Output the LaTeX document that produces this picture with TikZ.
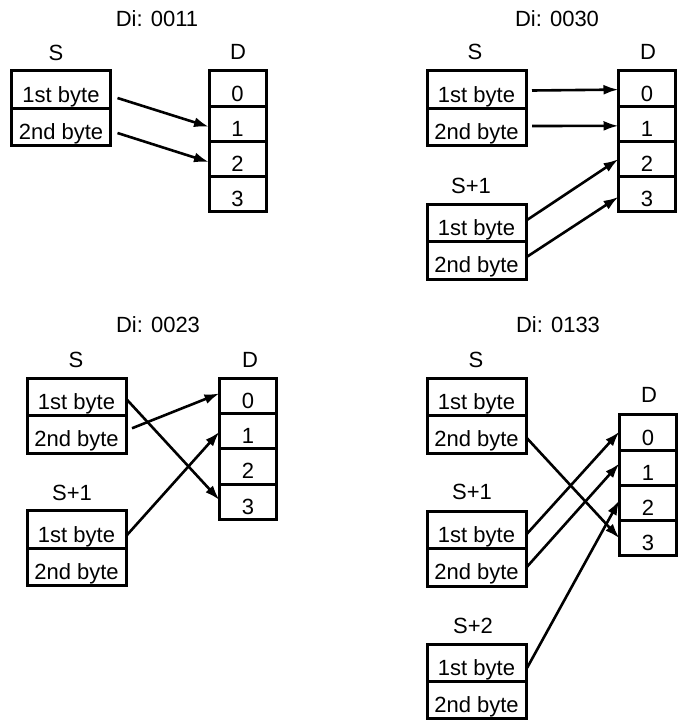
\documentclass[tikz,border=0pt]{standalone}
\usepackage{fontspec}
\setmainfont{Liberation Sans}
\usetikzlibrary{arrows.meta,calc}
\tikzset{
  txt/.style={font=\fontsize{22}{24}\selectfont},
  cell/.style={txt, draw, line width=3pt, minimum width=99pt, minimum height=37.5pt,
    inner sep=0pt, outer sep=0pt, text height=25pt, text depth=0pt},
  s2cell/.style={cell, minimum height=37pt},
  dcell/.style={cell, minimum width=57pt, minimum height=35.25pt},
  lbl/.style={txt, anchor=base, inner sep=0pt},
  arr/.style={line width=2.6pt, -{Latex[length=15pt,width=10pt]}}
}
\begin{document}
\begin{tikzpicture}[x=1pt,y=-1pt]
\useasboundingbox (0,0) rectangle (687,723);

% ---------- Panel 1: Di 0011 ----------
\node[lbl] (t1) at (157,26) {Di: 0011};
\node[lbl] (l1s) at (56,60) {S};
\node[lbl] (l1d) at (238,59) {D};
\node[cell] (p1sa) at (61,89.5) {1st byte};
\node[cell] (p1sb) at (61,127) {2nd byte};
\node[dcell] (p1d0) at (237.5,88.6) {0};
\node[dcell] (p1d1) at (237.5,123.85) {1};
\node[dcell] (p1d2) at (237.5,159.1) {2};
\node[dcell] (p1d3) at (237.5,194.35) {3};
\draw[arr] ($(p1sa.east)+(7,8.5)$) -- ($(p1d1.west)+(0,3)$);
\draw[arr] ($(p1sb.east)+(7,6)$) -- ($(p1d2.west)+(0,3)$);

% ---------- Panel 2: Di 0030 ----------
\node[lbl] (t2) at (557,26) {Di: 0030};
\node[lbl] (l2s) at (475,59) {S};
\node[lbl] (l2d) at (648,59) {D};
\node[lbl] (l2s1) at (471,193) {S+1};
\node[cell] (p2sa) at (476.5,89.5) {1st byte};
\node[cell] (p2sb) at (476.5,127) {2nd byte};
\node[cell] (p2s1a) at (476.5,222.75) {1st byte};
\node[cell] (p2s1b) at (476.5,260.25) {2nd byte};
\node[dcell] (p2d0) at (647,88.6) {0};
\node[dcell] (p2d1) at (647,123.85) {1};
\node[dcell] (p2d2) at (647,159.1) {2};
\node[dcell] (p2d3) at (647,194.35) {3};
\draw[arr] ($(p2sa.east)+(6,1)$) -- ($(p2d0.west)+(0,1)$);
\draw[arr] ($(p2sb.east)+(6,-1)$) -- ($(p2d1.west)+(0,2)$);
\draw[arr] ($(p2s1a.east)+(1,-2.75)$) -- ($(p2d2.west)+(0,0)$);
\draw[arr] ($(p2s1b.east)+(1,-3.5)$) -- ($(p2d3.west)+(0,2.5)$);

% ---------- Panel 3: Di 0023 ----------
\node[lbl] (t3) at (158,332) {Di: 0023};
\node[lbl] (l3s) at (76,367) {S};
\node[lbl] (l3d) at (250,367) {D};
\node[lbl] (l3s1) at (72,500) {S+1};
\node[cell] (p3sa) at (76.5,396.75) {1st byte};
\node[cell] (p3sb) at (76.5,434.25) {2nd byte};
\node[cell] (p3s1a) at (76.5,529.5) {1st byte};
\node[cell] (p3s1b) at (76.5,567) {2nd byte};
\node[dcell] (p3d0) at (248,395.9) {0};
\node[dcell] (p3d1) at (248,431.15) {1};
\node[dcell] (p3d2) at (248,466.4) {2};
\node[dcell] (p3d3) at (248,501.65) {3};
\draw[arr] ($(p3sa.east)+(1,3)$) -- ($(p3d3.west)+(0,-1.6)$);
\draw[arr] ($(p3sb.east)+(6,-6)$) -- ($(p3d0.west)+(0,-2.5)$);
\draw[arr] ($(p3s1a.east)+(1,5.5)$) -- ($(p3d1.west)+(0,0.6)$);

% ---------- Panel 4: Di 0133 ----------
\node[lbl] (t4) at (558,332) {Di: 0133};
\node[lbl] (l4s) at (476,367) {S};
\node[lbl] (l4d) at (649,402) {D};
\node[lbl] (l4s1) at (472,499.5) {S+1};
\node[lbl] (l4s2) at (473,633) {S+2};
\node[cell] (p4sa) at (476.5,396.75) {1st byte};
\node[cell] (p4sb) at (476.5,434.25) {2nd byte};
\node[cell] (p4s1a) at (476.5,529.75) {1st byte};
\node[cell] (p4s1b) at (476.5,567.25) {2nd byte};
\node[s2cell] (p4s2a) at (476.5,663) {1st byte};
\node[s2cell] (p4s2b) at (476.5,700) {2nd byte};
\node[dcell] (p4d0) at (648,432.6) {0};
\node[dcell] (p4d1) at (648,467.85) {1};
\node[dcell] (p4d2) at (648,503.1) {2};
\node[dcell] (p4d3) at (648,538.35) {3};
\draw[arr] ($(p4sb.east)+(1,4)$) -- ($(p4d3.west)+(0,0)$);
\draw[arr] ($(p4s1a.east)+(1,4)$) -- ($(p4d0.west)+(0,-1)$);
\draw[arr] ($(p4s1b.east)+(1,-0.5)$) -- ($(p4d1.west)+(0,-4.5)$);
\draw[arr] ($(p4s2a.east)+(1,5)$) -- ($(p4d2.west)+(0,-3)$);
\end{tikzpicture}
\end{document}
